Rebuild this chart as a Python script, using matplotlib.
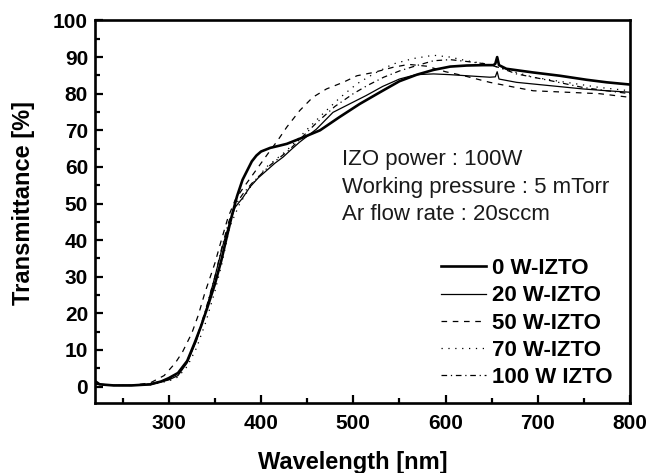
import matplotlib
matplotlib.use("Agg")
import matplotlib.pyplot as plt
from matplotlib.ticker import MultipleLocator

plt.rcParams['font.family'] = ['Liberation Sans', 'DejaVu Sans']

# ---- data ----
wl_0w = [220, 225, 240, 260, 280, 292, 300, 310, 320, 328, 335, 342, 350, 357, 363, 368, 374, 380, 385,
         390, 395, 400, 410, 420, 428, 445, 464, 485, 507, 529, 550, 569, 587, 605, 623, 641, 652, 654,
         656, 658, 666, 695, 724, 753, 775, 800]
t_0w = [1.5, 0.6, 0.3, 0.3, 0.6, 1.4, 2.3, 3.7, 7.0, 11.9, 16.5, 21.7, 28.0, 34.5, 41.0, 46.3, 52.0, 56.5, 59.0,
        61.5, 63.1, 64.2, 65.2, 65.8, 66.3, 68.0, 70.0, 73.6, 77.2, 80.4, 83.4, 85.2, 86.5, 87.4, 87.7, 87.8, 87.8, 88.2,
        90.0, 87.8, 86.8, 85.8, 84.9, 83.8, 83.1, 82.5]

wl_20w = [220, 240, 260, 280, 300, 310, 320, 330, 340, 350, 358, 365, 372, 380, 388, 397, 406, 415, 424, 433,
          442, 460, 478, 496, 514, 532, 550, 568, 587, 605, 623, 648, 654, 656, 658, 677, 713, 749, 775, 800]
t_20w = [0.8, 0.3, 0.3, 0.5, 1.8, 3.0, 6.5, 12.5, 20.5, 30.0, 38.0, 44.0, 49.0, 51.5, 54.5, 57.0, 59.0, 61.0, 62.7, 64.8,
         66.8, 70.3, 74.9, 77.2, 79.5, 82.0, 84.0, 85.2, 85.4, 85.2, 84.9, 84.5, 84.6, 86.0, 84.0, 83.1, 82.2, 81.3, 80.8, 80.4]

wl_50w = [220, 240, 260, 280, 295, 307, 315, 325, 332, 339, 350, 357, 364, 372, 380, 390, 400, 410, 418, 428,
          442, 456, 471, 489, 504, 522, 543, 560, 580, 600, 620, 648, 670, 695, 731, 767, 800]
t_50w = [0.8, 0.3, 0.3, 1.0, 3.0, 6.4, 9.5, 14.6, 19.5, 25.5, 33.7, 40.0, 46.0, 51.0, 54.0, 57.5, 61.0, 64.5, 67.2, 70.9,
         75.4, 79.0, 81.3, 83.1, 84.9, 85.8, 87.2, 88.0, 87.5, 86.0, 84.9, 83.1, 82.0, 80.8, 80.4, 80.0, 79.0]

wl_70w = [220, 240, 260, 280, 300, 310, 320, 330, 340, 350, 358, 366, 377, 391, 406, 428, 449, 467, 486, 504,
          522, 543, 565, 587, 605, 623, 645, 660, 695, 731, 767, 800]
t_70w = [0.5, 0.3, 0.3, 0.5, 1.5, 2.6, 5.5, 10.5, 17.5, 26.0, 34.0, 43.6, 50.0, 55.5, 60.0, 64.5, 70.0, 74.5, 79.0, 82.7,
         85.4, 88.1, 89.6, 90.5, 90.0, 89.0, 88.1, 87.0, 84.5, 83.1, 81.7, 80.8]

wl_100w = [220, 240, 260, 280, 300, 310, 320, 330, 340, 350, 358, 365, 372, 380, 390, 400, 410, 420, 430, 442,
           460, 480, 500, 515, 533, 551, 569, 587, 605, 623, 645, 660, 677, 713, 749, 775, 800]
t_100w = [0.6, 0.3, 0.3, 0.7, 2.0, 3.5, 7.0, 13.0, 21.0, 30.0, 38.5, 45.0, 49.5, 52.5, 55.5, 58.0, 60.5, 62.5, 64.5, 67.5,
          72.0, 76.5, 80.0, 82.2, 84.5, 86.3, 87.7, 89.0, 89.3, 88.8, 88.1, 87.0, 85.4, 83.6, 81.7, 80.8, 80.0]

labels = ['0 W-IZTO', '20 W-IZTO', '50 W-IZTO', '70 W-IZTO', '100 W IZTO']
annot = ['IZO power : 100W', 'Working pressure : 5 mTorr', 'Ar flow rate : 20sccm']
xticks = [300, 400, 500, 600, 700, 800]
yticks = [0, 10, 20, 30, 40, 50, 60, 70, 80, 90, 100]

# ---- figure ----
fig = plt.figure(figsize=(6.61, 4.73), dpi=100)
ax = fig.add_axes([0.1437, 0.148, 0.8094, 0.8087])

ax.plot(wl_0w, t_0w, color='black', lw=1.9, ls='-', label=labels[0])
ax.plot(wl_20w, t_20w, color='black', lw=0.9, ls='-', label=labels[1])
ax.plot(wl_50w, t_50w, color='black', lw=0.9, ls=(0, (4.5, 4.5)), label=labels[2])
ax.plot(wl_70w, t_70w, color='black', lw=0.9, ls=(0, (1, 4.5)), label=labels[3])
ax.plot(wl_100w, t_100w, color='black', lw=0.9, ls=(0, (4.5, 3, 1, 3)), label=labels[4])

ax.set_xlim(220, 800)
ax.set_ylim(-4.5, 100)
ax.set_xticks(xticks)
ax.set_yticks(yticks)
ax.xaxis.set_minor_locator(MultipleLocator(50))
ax.yaxis.set_minor_locator(MultipleLocator(5))
ax.tick_params(which='both', direction='in', top=False, right=False, width=1.6)
ax.tick_params(which='major', length=6)
ax.tick_params(which='minor', length=3.5)
ax.tick_params(axis='x', which='major', pad=8)
ax.tick_params(axis='y', which='major', pad=5)
for s in ax.spines.values():
    s.set_linewidth(1.9)
for lab in ax.get_xticklabels() + ax.get_yticklabels():
    lab.set_fontweight('bold')
    lab.set_fontsize(15)

ax.set_xlabel('Wavelength [nm]', fontsize=17, fontweight='bold')
ax.xaxis.set_label_coords(0.481, -0.125)
ax.set_ylabel('Transmittance [%]', fontsize=17, fontweight='bold')
ax.yaxis.set_label_coords(-0.112, 0.524)

ys = [0.622, 0.550, 0.478]
for txt, yy in zip(annot, ys):
    ax.text(0.461, yy, txt, transform=ax.transAxes, fontsize=16, va='baseline', ha='left', color='#1a1a1a')

leg = ax.legend(loc='lower right', bbox_to_anchor=(0.968, 0.039), frameon=False,
                prop={'weight': 'bold', 'size': 16}, handlelength=2.0, handletextpad=0.3,
                labelspacing=0.28, borderpad=0, borderaxespad=0)

fig.savefig('out.png', dpi=100)
